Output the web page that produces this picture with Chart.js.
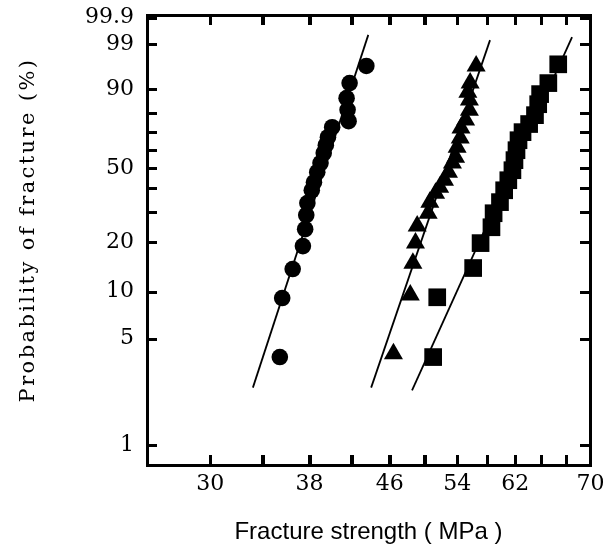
<!DOCTYPE html>
<html>
<head>
<meta charset="utf-8">
<script src="https://cdn.jsdelivr.net/npm/chart.js@4.4.1/dist/chart.umd.min.js"></script>
<style>
html,body{margin:0;padding:0;background:#fff;}
#wrap{width:604px;height:551px;}
</style>
</head>
<body>
<div id="wrap"><canvas id="c" width="604" height="551"></canvas></div>
<script>
// ---- Data (fracture strength in MPa, probability of fracture in %) ----
const circleStrength = [35.4, 35.6, 36.5, 37.4, 37.6, 37.7, 37.8, 38.2, 38.4, 38.7, 39.0, 39.3, 39.5, 39.7, 40.1, 41.7, 41.6, 41.5, 41.8, 43.5];
const circleProb     = [3.8, 9.1, 13.8, 19.0, 23.9, 28.7, 33.4, 39.0, 42.8, 47.9, 52.7, 58.2, 62.6, 67.1, 72.6, 75.8, 81.5, 86.7, 92.1, 96.3];

const triangleStrength = [46.4, 48.3, 48.6, 48.9, 49.1, 50.4, 50.6, 51.3, 51.8, 52.4, 52.9, 53.4, 53.8, 54.0, 54.4, 54.5, 55.1, 55.6, 55.6, 55.4, 55.7, 56.5];
const triangleProb     = [4.0, 9.5, 15.0, 19.8, 24.9, 29.4, 33.8, 37.7, 40.4, 43.8, 47.9, 52.7, 55.9, 61.5, 66.6, 72.1, 76.4, 81.3, 85.9, 89.0, 92.1, 96.3];

const squareStrength = [51.0, 51.5, 56.1, 57.1, 58.6, 58.9, 59.8, 60.4, 61.0, 61.6, 61.9, 62.2, 62.5, 63.1, 64.1, 65.0, 65.5, 65.8, 67.1, 68.7];
const squareProb     = [3.8, 9.2, 14.0, 19.8, 24.5, 29.4, 33.8, 39.0, 43.8, 48.9, 54.3, 59.8, 65.4, 69.9, 74.3, 78.9, 84.1, 88.3, 92.1, 96.6];

// fitted Weibull lines (end points)
const circleFitStrength   = [33.2, 43.7];
const circleFitProb       = [2.4, 99.5];
const triangleFitStrength = [44.0, 58.4];
const triangleFitProb     = [2.4, 99.25];
const squareFitStrength   = [48.5, 71.0];
const squareFitProb       = [2.3, 99.4];

// axes
const xTickValues  = [30, 34, 38, 42, 46, 50, 54, 58, 62, 66, 70];
const xTickLabeled = [30, 38, 46, 54, 62, 70];
const xRange       = [25.8, 74.1];
const yTickValues  = [1, 5, 10, 20, 30, 40, 50, 60, 70, 80, 90, 99, 99.9];
const yTickLabeled = [1, 5, 10, 20, 50, 90, 99, 99.9];
const yRangeProb   = [0.743, 99.9237];

// Weibull probability transform: ln(-ln(1-F))
function weibull(p) { return Math.log(-Math.log(1 - p / 100)); }
function toPoints(xs, ps) { return xs.map((x, i) => ({ x: x, y: weibull(ps[i]) })); }

const framePlugin = {
  id: 'axisframe',
  beforeDraw(chart) {
    const s = chart.scales.y;
    if (s && !s.__wrappedTitle) {
      const orig = s.drawTitle.bind(s);
      s.drawTitle = function () {
        const ctx = this.ctx;
        ctx.save();
        try { ctx.letterSpacing = '2.4px'; } catch (e) {}
        ctx.translate(0, -10);
        orig();
        ctx.restore();
      };
      s.__wrappedTitle = true;
    }
  },
  afterDraw(chart) {
    const ctx = chart.ctx;
    const ca = chart.chartArea;
    const xs = chart.scales.x, ys = chart.scales.y;
    const L = 10, W = 3, B = 3;
    const left = Math.round(ca.left), right = Math.round(ca.right);
    const top = Math.round(ca.top), bottom = Math.round(ca.bottom);
    ctx.save();
    ctx.fillStyle = '#000';
    ctx.beginPath();
    xTickValues.forEach(v => {
      const px = Math.round(xs.getPixelForValue(v));
      ctx.rect(px - 1, bottom - L, W, L);
      ctx.rect(px - 1, top, W, L);
    });
    yTickValues.forEach(p => {
      const py = Math.round(ys.getPixelForValue(weibull(p)));
      ctx.rect(left, py - 1, L, W);
      ctx.rect(right - L, py - 1, L, W);
    });
    ctx.fill();
    ctx.fillRect(left - 1, top - 1, right - left + B, B);
    ctx.fillRect(left - 1, bottom - 1, right - left + B, B);
    ctx.fillRect(left - 1, top - 1, B, bottom - top + B);
    ctx.fillRect(right - 1, top - 1, B, bottom - top + B);
    ctx.restore();
  }
};

const lineStyle = { showLine: true, borderColor: '#000', borderWidth: 1.8, pointRadius: 0, pointHoverRadius: 0, fill: false };
const markStyle = { backgroundColor: '#000', borderColor: '#000', borderWidth: 0, showLine: false };
const innerTickGrid = { display: true, drawOnChartArea: false, drawTicks: true, tickLength: -10, color: '#000', lineWidth: 3 };

new Chart(document.getElementById('c'), {
  type: 'scatter',
  data: {
    datasets: [
      Object.assign({ label: 'fit1', data: toPoints(circleFitStrength, circleFitProb) }, lineStyle),
      Object.assign({ label: 'fit2', data: toPoints(triangleFitStrength, triangleFitProb) }, lineStyle),
      Object.assign({ label: 'fit3', data: toPoints(squareFitStrength, squareFitProb) }, lineStyle),
      Object.assign({ label: 'circles', data: toPoints(circleStrength, circleProb), pointStyle: 'circle', pointRadius: 8.3, pointHoverRadius: 8.3 }, markStyle),
      Object.assign({ label: 'triangles', data: toPoints(triangleStrength, triangleProb), pointStyle: 'triangle', pointRadius: 11, pointHoverRadius: 11 }, markStyle),
      Object.assign({ label: 'squares', data: toPoints(squareStrength, squareProb), pointStyle: 'rect', pointRadius: 12.5, pointHoverRadius: 12.5 }, markStyle)
    ]
  },
  options: {
    responsive: false,
    animation: false,
    devicePixelRatio: 1,
    events: [],
    layout: { padding: { left: 0, right: 14, top: 0, bottom: 0 } },
    plugins: { legend: { display: false }, tooltip: { enabled: false } },
    scales: {
      x: {
        type: 'logarithmic',
        position: 'bottom',
        min: xRange[0], max: xRange[1],
        afterBuildTicks: s => { s.ticks = xTickValues.map(v => ({ value: v })); },
        afterFit: s => { s.height = 86; s.paddingLeft = 0; s.paddingRight = 0; },
        grid: innerTickGrid,
        border: { display: false },
        ticks: {
          autoSkip: false, maxRotation: 0, minRotation: 0, padding: 16, color: '#000',
          font: { family: 'DejaVu Serif', size: 22 },
          callback: (v, i) => {
            const val = xTickValues[i];
            if (!xTickLabeled.includes(val)) return '';
            return val === 70 ? '       ' + val : String(val);
          }
        },
        title: {
          display: true, text: 'Fracture strength ( MPa )', color: '#000',
          font: { family: 'Liberation Sans', size: 24 },
          padding: { top: 0, bottom: 4 }
        }
      },
      xTop: {
        type: 'logarithmic',
        axis: 'x',
        position: 'top',
        min: xRange[0], max: xRange[1],
        afterBuildTicks: s => { s.ticks = xTickValues.map(v => ({ value: v })); },
        afterFit: s => { s.height = 15; s.paddingLeft = 0; s.paddingRight = 0; },
        grid: innerTickGrid,
        border: { display: false },
        ticks: { display: false }
      },
      y: {
        type: 'linear',
        position: 'left',
        min: weibull(yRangeProb[0]), max: weibull(yRangeProb[1]),
        afterBuildTicks: s => { s.ticks = yTickValues.map(p => ({ value: weibull(p) })); },
        afterFit: s => { s.width = 147; s.paddingTop = 0; s.paddingBottom = 0; },
        grid: { display: false, drawTicks: false },
        border: { display: false },
        ticks: {
          autoSkip: false, padding: 13, color: '#000',
          font: { family: 'DejaVu Serif', size: 22 },
          callback: (v, i) => {
            const p = yTickValues[i];
            return yTickLabeled.includes(p) ? String(p) : '';
          }
        },
        title: {
          display: true, text: 'Probability of fracture (%)', color: '#000',
          font: { family: 'DejaVu Serif', size: 21 },
          padding: { top: 16, bottom: 0 }
        }
      }
    }
  },
  plugins: [framePlugin]
});
</script>
</body>
</html>
